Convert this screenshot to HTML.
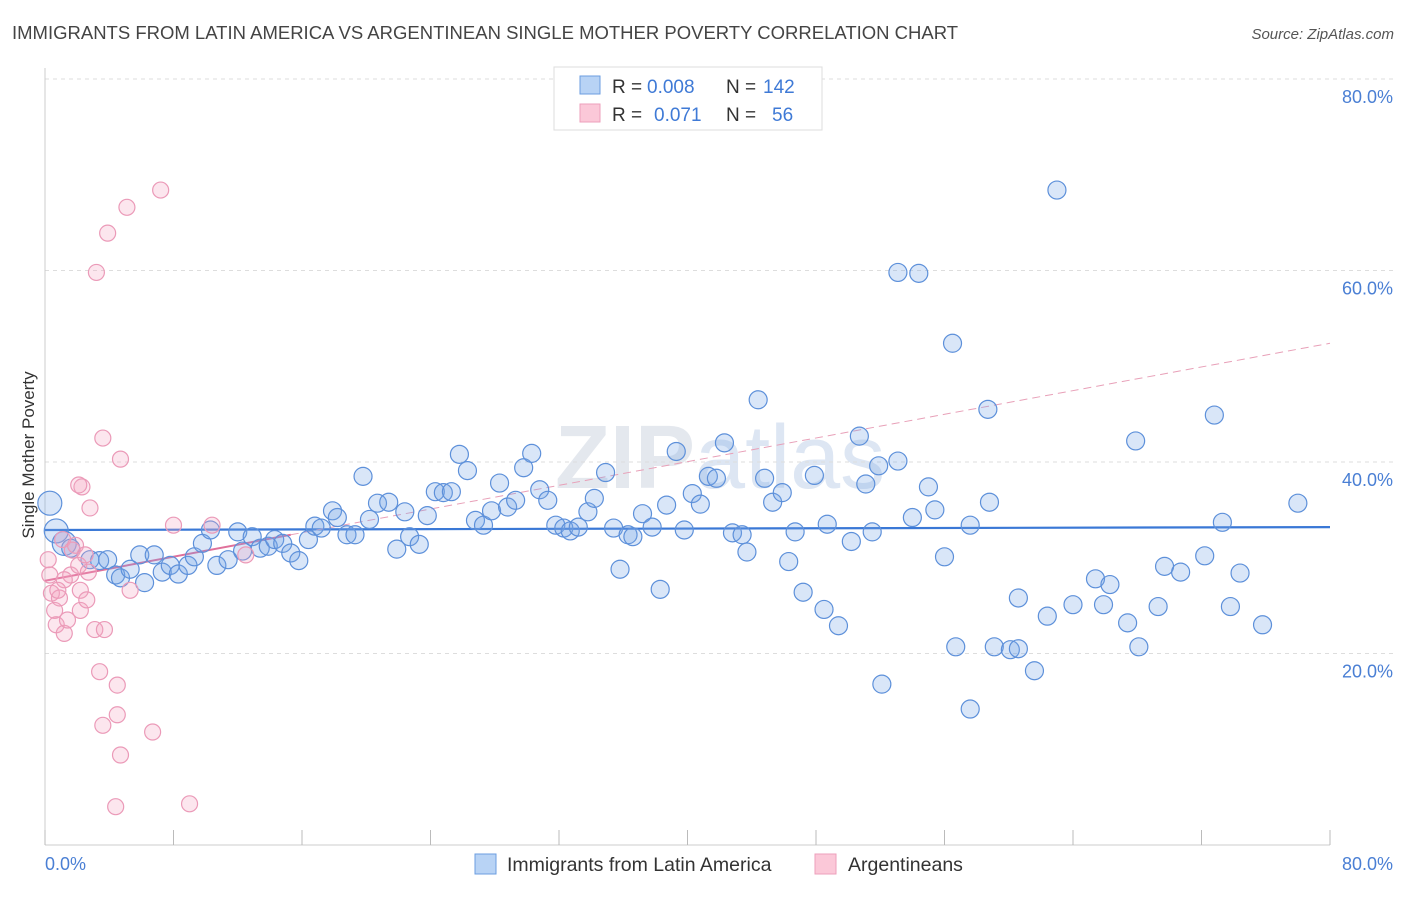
<!DOCTYPE html>
<html><head><meta charset="utf-8"><style>
body{margin:0;background:#fff;font-family:"Liberation Sans",sans-serif;}
svg text{font-family:"Liberation Sans",sans-serif;}
</style></head><body>
<svg id="chart" width="1406" height="892" xmlns="http://www.w3.org/2000/svg">
<text x="12" y="39" font-size="18.5" fill="#444">IMMIGRANTS FROM LATIN AMERICA VS ARGENTINEAN SINGLE MOTHER POVERTY CORRELATION CHART</text>
<text x="1394" y="39" font-size="15" fill="#555" font-style="italic" text-anchor="end">Source: ZipAtlas.com</text>
<text x="555" y="488" font-size="90" fill="#e4e8ee" font-family="Liberation Serif" font-weight="bold">ZIP<tspan font-family="Liberation Sans" font-weight="normal" fill="#dde6f3">atlas</tspan></text>
<text transform="translate(34,455) rotate(-90)" font-size="17" fill="#333" text-anchor="middle">Single Mother Poverty</text>
<g id="grid"></g><g id="axes"></g><g id="trend"></g><g id="pts"></g>
<g>
<rect x="554" y="67" width="268" height="63" fill="#fff" stroke="#ddd"/>
<rect x="580" y="76" width="20" height="18" fill="#b8d3f5" stroke="#6b9ee0"/>
<rect x="580" y="104" width="20" height="18" fill="#fbc8d8" stroke="#ee9fbb"/>
<text x="612" y="93" font-size="19" fill="#333">R =</text>
<text x="647" y="93" font-size="19" fill="#3f7ad6">0.008</text>
<text x="726" y="93" font-size="19" fill="#333">N =</text>
<text x="763" y="93" font-size="19" fill="#3f7ad6">142</text>
<text x="612" y="121" font-size="19" fill="#333">R =</text>
<text x="654" y="121" font-size="19" fill="#3f7ad6">0.071</text>
<text x="726" y="121" font-size="19" fill="#333">N =</text>
<text x="772" y="121" font-size="19" fill="#3f7ad6">56</text>
</g>
<g>
<rect x="475" y="854" width="21" height="20" fill="#b8d3f5" stroke="#6b9ee0"/>
<text x="507" y="871" font-size="19.5" fill="#333">Immigrants from Latin America</text>
<rect x="815" y="854" width="21" height="20" fill="#fbc8d8" stroke="#ee9fbb"/>
<text x="848" y="871" font-size="19.5" fill="#333">Argentineans</text>
</g>
</svg>
<script>
const blueX=[0.3,0.7,1.2,1.6,2.8,3.4,3.9,4.4,4.7,5.3,5.9,6.2,6.8,7.3,7.8,8.3,8.9,9.3,9.8,10.3,10.7,11.4,12.0,12.3,12.9,13.4,13.9,14.3,14.8,15.3,15.8,16.4,16.8,17.2,17.9,18.2,18.8,19.3,19.8,20.2,20.7,21.4,21.9,22.4,22.7,23.3,23.8,24.3,24.8,25.3,25.8,26.3,26.8,27.3,27.8,28.3,28.8,29.3,29.8,30.3,30.8,31.3,31.8,32.3,32.7,33.2,33.8,34.2,34.9,35.4,35.8,36.3,36.6,37.2,37.8,38.3,38.7,39.3,39.8,40.3,40.8,41.3,41.8,42.3,42.8,43.4,43.7,44.4,44.8,45.3,45.9,46.3,46.7,47.2,47.9,48.5,48.7,49.4,50.2,50.7,51.1,51.5,51.9,52.1,53.1,53.1,54.0,54.4,55.0,55.4,56.0,56.5,56.7,57.6,57.6,58.7,58.8,59.1,60.1,60.6,60.6,61.6,62.4,63.0,64.0,65.4,65.9,66.3,67.4,67.9,68.1,69.3,69.7,70.7,72.2,72.8,73.3,73.8,74.4,75.8,78.0];
const blueY=[35.7,32.8,31.5,31.0,29.8,29.7,29.8,28.2,27.9,28.8,30.3,27.4,30.3,28.5,29.2,28.3,29.2,30.1,31.5,32.9,29.2,29.8,32.7,30.7,32.2,31.0,31.2,31.9,31.5,30.5,29.7,31.9,33.3,33.1,34.9,34.2,32.4,32.4,38.5,34.0,35.7,35.8,30.9,34.8,32.2,31.4,34.4,36.9,36.8,36.9,40.8,39.1,33.9,33.4,34.9,37.8,35.3,36.0,39.4,40.9,37.1,36.0,33.4,33.1,32.8,33.2,34.8,36.2,38.9,33.1,28.8,32.4,32.2,34.6,33.2,26.7,35.5,41.1,32.9,36.7,35.6,38.5,38.3,42.0,32.6,32.4,30.6,46.5,38.3,35.8,36.8,29.6,32.7,26.4,38.6,24.6,33.5,22.9,31.7,42.7,37.7,32.7,39.6,16.8,59.8,40.1,34.2,59.7,37.4,35.0,30.1,52.4,20.7,14.2,33.4,45.5,35.8,20.7,20.4,25.8,20.5,18.2,23.9,68.4,25.1,27.8,25.1,27.2,23.2,42.2,20.7,24.9,29.1,28.5,30.2,44.9,33.7,24.9,28.4,23.0,35.7];
const pinkX=[0.2,0.3,0.4,0.6,0.7,0.9,1.1,1.2,1.4,1.6,1.7,1.9,2.1,2.2,2.2,2.3,2.5,2.6,2.7,2.8,3.1,3.4,3.6,3.6,3.7,4.5,4.5,4.7,4.4,4.7,3.9,3.2,5.1,5.3,6.7,7.2,8.0,9.0,10.4,12.5,2.1,1.2,0.8];
const pinkY=[29.8,28.2,26.3,24.5,23.0,25.8,31.9,22.1,23.5,28.2,30.8,31.3,29.2,26.6,24.5,37.4,30.3,25.6,28.5,35.2,22.5,18.1,42.5,12.5,22.5,16.7,13.6,9.4,4.0,40.3,63.9,59.8,66.6,26.6,11.8,68.4,33.4,4.3,33.4,30.3,37.6,27.7,26.6];
const blueTrend=[32.9,33.2];
const pinkTrend=[27.6,32.4,52.4];
const pinkTrendX=[0,15.3,80];
const yTicks=[20,40,60,80];
const xTickCount=[0,8,16,24,32,40,48,56,64,72,80];
const NS='http://www.w3.org/2000/svg';
const X=v=>45+v/80*1285;
const Y=v=>845-v/20*191.5;
function mk(tag,attrs,parent){const e=document.createElementNS(NS,tag);for(const k in attrs)e.setAttribute(k,attrs[k]);document.getElementById(parent).appendChild(e);return e;}
yTicks.forEach(t=>{
 const l=mk('line',{x1:45,x2:1393,y1:Y(t),y2:Y(t),stroke:'#ddd','stroke-dasharray':'4,4'},'grid');
 
 
 const tx=mk('text',{x:1393,y:Y(t)+24,'font-size':18,fill:'#4a7fd4','text-anchor':'end'},'grid');
 tx.textContent=t.toFixed(1)+'%';
 
 
});
const ax=mk('line',{x1:45,x2:1330,y1:845,y2:845,stroke:'#ccc'},'axes');


const ay=mk('line',{x1:45,x2:45,y1:68,y2:845,stroke:'#ccc'},'axes');


xTickCount.forEach(t=>{
 const l=mk('line',{x1:X(t),x2:X(t),y1:830,y2:845,stroke:'#bbb'},'axes');
 
 
});
[[0,'start',45],[80,'end',1393]].forEach(a=>{
 const tx=mk('text',{x:a[2],y:870,'font-size':18,fill:'#4a7fd4','text-anchor':a[1]},'axes');
 tx.textContent=a[0].toFixed(1)+'%';
 
 
});
blueX.forEach((x,i)=>{
 const r=(x<1.5)?12:9;
 const c=mk('circle',{cx:X(x),cy:Y(blueY[i]),r:r,fill:'rgba(120,165,230,0.28)',stroke:'#5d90da','stroke-width':1.2},'pts');
 
 
});
pinkX.forEach((x,i)=>{
 const c=mk('circle',{cx:X(x),cy:Y(pinkY[i]),r:8,fill:'rgba(245,165,195,0.28)',stroke:'#eb9ab8','stroke-width':1.2},'pts');
 
 
});
const bt=mk('line',{x1:X(0),x2:X(80),y1:Y(blueTrend[0]),y2:Y(blueTrend[1]),stroke:'#3a78d6','stroke-width':2.2},'trend');


const pd=mk('line',{x1:X(pinkTrendX[1]),x2:X(pinkTrendX[2]),y1:Y(pinkTrend[1]),y2:Y(pinkTrend[2]),stroke:'#e8a0b8','stroke-width':1,'stroke-dasharray':'8,5'},'trend');


const ps=mk('line',{x1:X(pinkTrendX[0]),x2:X(pinkTrendX[1]),y1:Y(pinkTrend[0]),y2:Y(pinkTrend[1]),stroke:'#e0709a','stroke-width':2},'trend');


</script>
</body></html>
